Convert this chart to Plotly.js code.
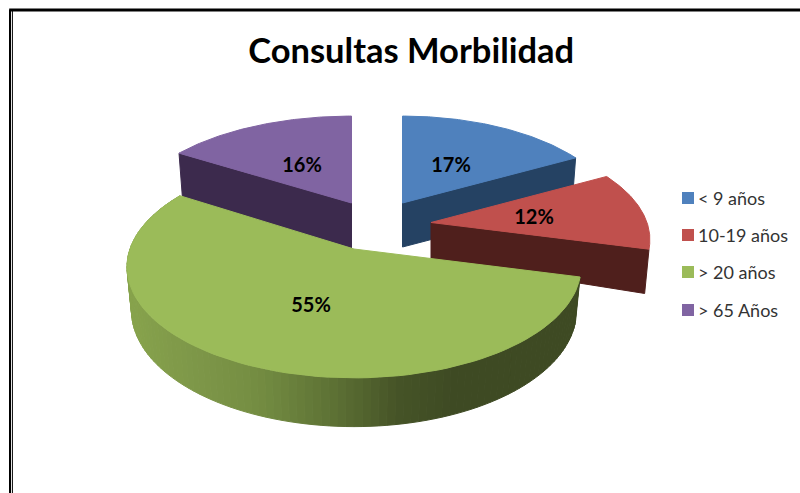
<!DOCTYPE html>
<html><head><meta charset="utf-8">
<script src="https://cdn.plot.ly/plotly-3.0.1.min.js"></script>
<style>html,body{margin:0;padding:0;background:#fff}#c{width:800px;height:493px}</style>
</head><body><div id="c"></div>
<script>
// ---- data ----
const categories = ["< 9 años", "10-19 años", "> 20 años", "> 65 Años"];
const values = [17, 12, 55, 16];
const titleText = "Consultas Morbilidad";

// ---- styles and placement (pixel scale of the hidden axes) ----
const faceColors = ["#4f81bd", "#c0504d", "#9bbb59", "#8064a2"];
const wallColors = ["#254263", "#4f1f1c", "#7f9a47", "#3c2a4d"];
const apex = [[402.5,203],[431,222.5],[354,249],[351.5,203]];
const radiusX = [213,216,224,222];
const radiusY = [101,103,108,101];
const depthApex = [44,37,44,45];
const depthRim = [44,43,43,44];
const labelPos = [[451,167],[534,219],[311,307],[302,167]];
const legendX = 688, legendTextX = 698, legendY = [198,235,272,310], legendTextShift = 2;
const persp = 0.162, bottomShrink = 0.98;
const greenStops = [[128,[135,163,76]],[200,[125,150,72]],[260,[116,141,66]],[340,[92,112,52]],[400,[70,84,39]],[460,[62,74,35]],[585,[62,74,35]]];

// ---- geometry from the values ----
const total = values.reduce((s,v)=>s+v,0);
let acc = 0;
const spans = values.map(v=>{const s=[acc/total*2*Math.PI,(acc+v)/total*2*Math.PI];acc+=v;return s;});
function pt(i,t,r,bottom){
  const w = 1+persp*Math.cos(t);
  const sc = bottom?bottomShrink:1;
  const dz = bottom?(r>0?depthRim[i]/Math.min(1,w):depthApex[i]):0;
  return [apex[i][0]+sc*r*radiusX[i]*Math.sin(t)/w, apex[i][1]-sc*r*radiusY[i]*Math.cos(t)/w+dz];
}
function poly(points,color,name){
  return {type:"scatter",mode:"lines",x:points.map(p=>p[0]),y:points.map(p=>p[1]),fill:"toself",fillcolor:color,
    line:{color:color,width:1},showlegend:false,hoverinfo:"skip",name:name};
}
function face(i){
  const pts=[pt(i,0,0,false)],[a,b]=spans[i],n=90;
  for(let k=0;k<=n;k++)pts.push(pt(i,a+(b-a)*k/n,1,false));
  pts.push(pts[0]);
  return poly(pts,faceColors[i],categories[i]);
}
function radialWall(i,t){
  return poly([pt(i,t,0,false),pt(i,t,1,false),pt(i,t,1,true),pt(i,t,0,true),pt(i,t,0,false)],wallColors[i],categories[i]);
}
function greenColor(x){
  for(let k=0;k<greenStops.length-1;k++){
    const [x0,c0]=greenStops[k],[x1,c1]=greenStops[k+1];
    if(x<=x1){const f=Math.max(0,(x-x0)/(x1-x0));
      return "rgb("+c0.map((c,j)=>Math.round(c+(c1[j]-c)*f)).join(",")+")";}
  }
  return "rgb(62,74,35)";
}
function arcWall(i){
  const out=[],[a,b]=spans[i],n=110;
  for(let k=0;k<n;k++){
    const t0=a+(b-a)*k/n,t1=a+(b-a)*(k+1)/n;
    const p=[pt(i,t0,1,false),pt(i,t1,1,false),pt(i,t1,1,true),pt(i,t0,1,true)];
    p.push(p[0]);
    out.push(poly(p,greenColor(p[0][0]),categories[i]));
  }
  return out;
}
const traces=[];
// purple, blue, red, green back to front
[3,0,1].forEach(i=>{
  traces.push(radialWall(i,i===3?spans[i][0]:spans[i][1]));
  traces.push(face(i));
});
arcWall(2).forEach(t=>traces.push(t));
traces.push(face(2));

// percentage labels
traces.push({type:"scatter",mode:"text",x:labelPos.map(p=>p[0]),y:labelPos.map(p=>p[1]),
  text:values.map(v=>v+"%"),textposition:"middle center",
  textfont:{family:"Lato, sans-serif",size:20,color:"#000",weight:700},showlegend:false,hoverinfo:"skip"});
// legend
traces.push({type:"scatter",mode:"markers",x:legendY.map(()=>legendX),y:legendY,
  marker:{symbol:"square",size:12,color:faceColors},showlegend:false,hoverinfo:"skip"});
traces.push({type:"scatter",mode:"text",x:legendY.map(()=>legendTextX),y:legendY.map(v=>v+legendTextShift),text:categories,
  textposition:"middle right",textfont:{family:"Lato, sans-serif",size:18,color:"#333333"},showlegend:false,hoverinfo:"skip"});

const layout={
  width:800,height:493,margin:{l:0,r:0,t:0,b:0},paper_bgcolor:"#fff",plot_bgcolor:"#fff",
  showlegend:false,hovermode:false,
  title:{text:"<b>"+titleText+"</b>",x:0.514,xanchor:"center",y:0.897,yanchor:"middle",yref:"container",font:{family:"Lato, sans-serif",size:34.5,color:"#000"}},
  xaxis:{range:[0,800],visible:false,fixedrange:true},
  yaxis:{range:[493,0],visible:false,fixedrange:true},
  shapes:[
    {type:"line",xref:"paper",yref:"paper",x0:0.0115,x1:1,y0:0.9795,y1:0.9795,line:{color:"#000",width:3}},
    {type:"line",xref:"paper",yref:"paper",x0:0.0125,x1:0.0125,y0:0,y1:0.98,line:{color:"#000",width:2}},
    {type:"line",xref:"paper",yref:"paper",x0:0.0155,x1:0.0155,y0:0,y1:0.98,line:{color:"#000",width:1}}
  ]
};
Plotly.newPlot("c",traces,layout,{displayModeBar:false,staticPlot:true});
</script></body></html>
